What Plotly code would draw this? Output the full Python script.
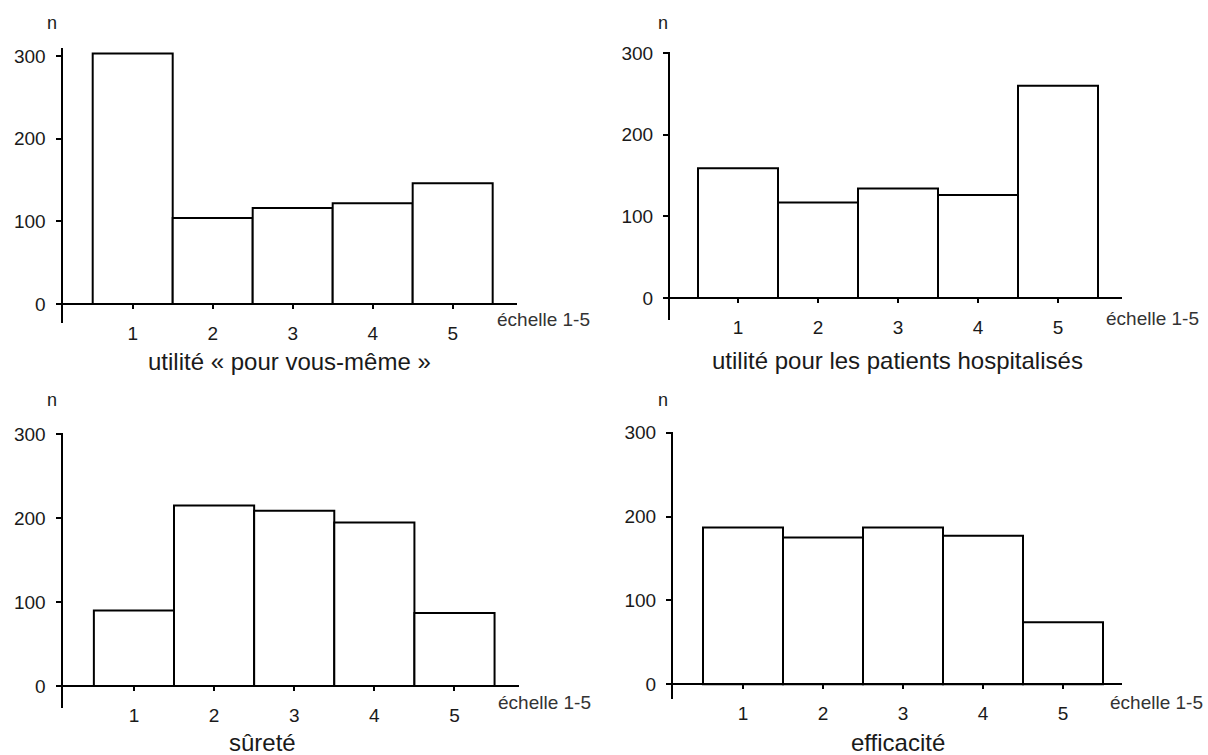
import plotly.graph_objects as go

W, H = 1208, 755

categories = [1, 2, 3, 4, 5]
tick_labels = ["1", "2", "3", "4", "5"]
y_ticks = [0, 100, 200, 300]

vals_vous_meme = [303, 104, 116, 122, 146]
vals_patients = [159, 117, 134, 126, 260]
vals_surete = [90, 215, 209, 195, 87]
vals_efficacite = [187, 175, 187, 177, 74]

titles = ["utilité « pour vous-même »", "utilité pour les patients hospitalisés",
          "sûreté", "efficacité"]
series = [vals_vous_meme, vals_patients, vals_surete, vals_efficacite]

FONT = "Liberation Sans, Arial, sans-serif"
TXT = "#1a1a1a"

panels = [
    dict(x0=62.5, x1=517, xr=[0.1225, 5.804], yt=48, yb=323, yr=[-23, 309.7], zero=304,
         n=(52, 23), ech=(543, 319), tit=(289, 361)),
    dict(x0=670, x1=1122, xr=[0.15, 5.8], yt=52, yb=320, yr=[-26.9, 301.2], zero=298,
         n=(663, 23), ech=(1152, 318), tit=(897, 360)),
    dict(x0=62.5, x1=518.6, xr=[0.1085, 5.80], yt=433.3, yb=708.3, yr=[-26.6, 301.2], zero=686,
         n=(52, 400), ech=(544, 702), tit=(262, 742)),
    dict(x0=673, x1=1121.8, xr=[0.125, 5.735], yt=431.7, yb=699.3, yr=[-17.9, 301.2], zero=684.3,
         n=(663, 400), ech=(1156, 702), tit=(898, 742)),
]

fig = go.Figure()
layout = dict(
    width=W, height=H,
    margin=dict(l=0, r=0, t=0, b=0, pad=0, autoexpand=False),
    paper_bgcolor="white", plot_bgcolor="white",
    showlegend=False,
    bargap=0,
    font=dict(family=FONT, color=TXT),
    annotations=[],
)

for i, (p, vals, tit) in enumerate(zip(panels, series, titles)):
    k = "" if i == 0 else str(i + 1)
    fig.add_trace(go.Bar(
        x=categories, y=vals, width=1,
        marker=dict(color="white", line=dict(color="black", width=2)),
        xaxis="x" + k, yaxis="y" + k, hoverinfo="skip",
    ))
    ydom = [1 - p["yb"] / H, 1 - p["yt"] / H]
    layout["xaxis" + k] = dict(
        domain=[p["x0"] / W, p["x1"] / W], range=p["xr"],
        anchor="free", position=1 - p["zero"] / H,
        showline=True, linecolor="black", linewidth=2,
        ticks="outside", ticklen=4, tickwidth=2, tickcolor="black",
        tickvals=categories, ticktext=tick_labels,
        tickfont=dict(size=19, family=FONT, color=TXT),
        ticklabelstandoff=8, automargin=False,
        showgrid=False, zeroline=False, fixedrange=True,
    )
    layout["yaxis" + k] = dict(
        domain=ydom, range=p["yr"], anchor="x" + k,
        showline=True, linecolor="black", linewidth=2,
        ticks="outside", ticklen=5, tickwidth=2, tickcolor="black",
        tickvals=y_ticks, ticktext=[str(v) for v in y_ticks],
        tickfont=dict(size=19, family=FONT, color=TXT),
        ticklabelstandoff=6, automargin=False,
        showgrid=False, zeroline=False, fixedrange=True,
    )
    layout["annotations"] += [
        dict(text="n", x=p["n"][0] / W, y=1 - p["n"][1] / H, xref="paper", yref="paper",
             showarrow=False, xanchor="center", yanchor="middle",
             font=dict(size=18, family=FONT, color=TXT)),
        dict(text="échelle 1-5", x=p["ech"][0] / W, y=1 - p["ech"][1] / H, xref="paper", yref="paper",
             showarrow=False, xanchor="center", yanchor="middle",
             font=dict(size=19, family=FONT, color="#333333")),
        dict(text=tit, x=p["tit"][0] / W, y=1 - p["tit"][1] / H, xref="paper", yref="paper",
             showarrow=False, xanchor="center", yanchor="middle",
             font=dict(size=24, family=FONT, color=TXT)),
    ]

fig.update_layout(**layout)
fig.write_html(
    "out.html",
    config={"displayModeBar": False, "staticPlot": True},
    post_script="document.body.style.margin='0';document.body.style.padding='0';",
)
